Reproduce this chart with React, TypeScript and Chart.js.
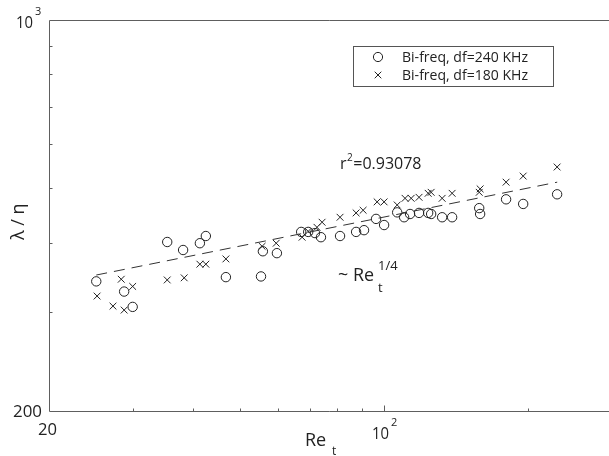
import React, { useEffect, useRef } from "react";
import { Chart, registerables } from "chart.js";

Chart.register(...registerables);

// Series: Bi-freq, df=240 KHz (circles)
const circleRe = [25.1, 28.7, 29.9, 35.3, 38.1, 41.3, 42.5, 46.8, 55.4, 55.9, 59.8, 67.2, 69.5, 71.8, 73.9, 81.0, 87.5, 90.9, 96.3, 100.1, 106.6, 110.2, 113.4, 118.4, 123.7, 125.5, 132.3, 138.8, 158.1, 158.8, 179.9, 195.3, 229.9];
const circleLambda = [341, 327, 307, 401, 388, 399, 411, 347, 348, 386, 383, 418, 418, 416, 409, 411, 418, 421, 441, 430, 453, 444, 450, 452, 452, 450, 444, 444, 461, 450, 478, 469, 488];

// Series: Bi-freq, df=180 KHz (crosses)
const crossRe = [25.2, 28.3, 27.2, 28.7, 29.9, 35.3, 38.3, 41.3, 42.5, 46.8, 55.7, 59.6, 67.5, 69.5, 72.5, 74.3, 81.0, 87.5, 90.5, 96.8, 100.1, 106.6, 110.7, 114.0, 118.4, 123.7, 125.5, 132.3, 138.8, 158.1, 158.8, 179.9, 195.3, 229.9];
const crossLambda = [321, 344, 308, 303, 334, 343, 346, 366, 366, 374, 394, 399, 409, 419, 426, 435, 444, 452, 457, 473, 473, 467, 480, 480, 482, 490, 492, 480, 490, 492, 499, 513, 526, 546];

// Fitted power-law line (endpoints)
const fitRe = [25.1, 230];
const fitLambda = [350, 513];

const seriesLabels = ["Bi-freq, df=240 KHz", "Bi-freq, df=180 KHz"];
const xMinorTicks = [30, 40, 50, 60, 70, 80, 90, 200];
const xMajorTicks = [100];
const yMinorTicks = [300, 400, 500, 600, 700, 800, 900];
const X_MIN = 20;
const X_MAX = 295;
const Y_MIN = 200;
const Y_MAX = 1000;
const fitText = "r";
const fitTextSup = "2";
const fitTextRest = "=0.93078";

const FONT = "'Open Sans', 'DejaVu Sans', sans-serif";
const INK = "#222222";
const AXIS = "#5e5e5e";

function font(size: number) {
  return `${size}px ${FONT}`;
}

function fitFill(ctx: any, t: string, x: number, y: number, target: number) {
  const w = ctx.measureText(t).width;
  ctx.save();
  ctx.translate(x, y);
  if (w > target) ctx.scale(target / w, 1);
  ctx.fillText(t, 0, 0);
  ctx.restore();
}

const overlayPlugin = {
  id: "overlay",
  afterDraw(chart: any) {
    const { ctx, chartArea, scales } = chart;
    const xs = scales.x;
    const ys = scales.y;
    const { left, right, top, bottom } = chartArea;
    ctx.save();
    ctx.strokeStyle = AXIS;
    ctx.lineWidth = 1;
    const xb = Math.round(bottom) + 0.5;
    const yl = Math.round(left) + 0.5;
    const yt = Math.round(top) + 0.5;
    // frame: top, left, bottom
    ctx.beginPath();
    ctx.moveTo(right, yt);
    ctx.lineTo(yl, yt);
    ctx.lineTo(yl, xb);
    ctx.lineTo(right, xb);
    ctx.stroke();

    // x ticks (inward)
    ctx.beginPath();
    xMinorTicks.forEach((v) => {
      const px = Math.round(xs.getPixelForValue(v)) + 0.5;
      ctx.moveTo(px, xb);
      ctx.lineTo(px, xb - 3);
    });
    xMajorTicks.forEach((v) => {
      const px = Math.round(xs.getPixelForValue(v)) + 0.5;
      ctx.moveTo(px, xb);
      ctx.lineTo(px, xb - 6);
    });
    // y ticks
    yMinorTicks.forEach((v) => {
      const py = Math.round(ys.getPixelForValue(v)) + 0.5;
      ctx.moveTo(yl, py);
      ctx.lineTo(yl + 3, py);
    });
    ctx.stroke();

    ctx.fillStyle = INK;
    ctx.textBaseline = "alphabetic";

    // y tick labels
    ctx.font = font(17);
    ctx.textAlign = "left";
    const p200 = ys.getPixelForValue(Y_MIN);
    fitFill(ctx, String(Y_MIN), 13, p200 + 6, 29);
    const p1000 = ys.getPixelForValue(Y_MAX);
    fitFill(ctx, "10", 16, p1000 + 8, 17);
    ctx.font = font(11);
    ctx.fillText("3", 35, p1000 - 5);

    // x tick labels
    ctx.font = font(17);
    const p20 = xs.getPixelForValue(X_MIN);
    fitFill(ctx, String(X_MIN), p20 - 11, bottom + 24, 19);
    const p100 = xs.getPixelForValue(100);
    fitFill(ctx, "10", p100 - 12, bottom + 28, 17);
    ctx.font = font(11);
    ctx.fillText("2", p100 + 7, bottom + 15);

    // x title
    ctx.font = font(18);
    fitFill(ctx, "Re", 305, 446, 24);
    ctx.font = font(12);
    ctx.fillText("t", 332, 455);

    // y title
    ctx.save();
    ctx.translate(24, 240);
    ctx.rotate(-Math.PI / 2);
    ctx.font = font(18);
    fitFill(ctx, "λ / η", 0, 0, 48);
    ctx.restore();

    // annotations
    ctx.font = font(16);
    ctx.fillText(fitText, 340, 169);
    const rw = ctx.measureText(fitText).width;
    ctx.font = font(10);
    ctx.fillText(fitTextSup, 340 + rw + 0.5, 161);
    const sw = ctx.measureText(fitTextSup).width;
    ctx.font = font(16);
    fitFill(ctx, fitTextRest, 340 + rw + sw + 1, 169, 80);

    ctx.font = font(19);
    fitFill(ctx, "~ Re", 338, 281, 36);
    ctx.font = font(13);
    ctx.fillText("t", 378, 292);
    ctx.fillText("1/4", 378, 270);

    // legend
    const lx = 353.5, ly = 46.5, lw = 200, lh = 40;
    ctx.fillStyle = "#ffffff";
    ctx.fillRect(lx, ly, lw, lh);
    ctx.strokeStyle = "#555";
    ctx.strokeRect(lx, ly, lw, lh);
    ctx.strokeStyle = INK;
    ctx.beginPath();
    ctx.arc(378, 57, 4.6, 0, Math.PI * 2);
    ctx.stroke();
    const c = 3.3;
    ctx.beginPath();
    ctx.moveTo(378 - c, 75 - c);
    ctx.lineTo(378 + c, 75 + c);
    ctx.moveTo(378 - c, 75 + c);
    ctx.lineTo(378 + c, 75 - c);
    ctx.stroke();
    ctx.fillStyle = INK;
    ctx.font = font(15);
    seriesLabels.forEach((t, i) => {
      fitFill(ctx, t, 402, 62 + i * 18, 126);
    });
    ctx.restore();
  },
};

export default function App() {
  const ref = useRef<HTMLCanvasElement | null>(null);
  useEffect(() => {
    document.body.style.margin = "0";
    document.body.style.background = "#ffffff";
    const canvas = ref.current!;
    const chart = new Chart(canvas, {
      type: "scatter",
      data: {
        datasets: [
          {
            label: "fit",
            type: "line",
            data: fitRe.map((x, i) => ({ x, y: fitLambda[i] })),
            borderColor: "#333",
            borderWidth: 1,
            borderDash: [11, 7],
            pointRadius: 0,
            fill: false,
          } as any,
          {
            label: seriesLabels[0],
            data: circleRe.map((x, i) => ({ x, y: circleLambda[i] })),
            pointStyle: "circle",
            pointRadius: 4.7,
            borderColor: INK,
            backgroundColor: "rgba(0,0,0,0)",
            borderWidth: 1,
          },
          {
            label: seriesLabels[1],
            data: crossRe.map((x, i) => ({ x, y: crossLambda[i] })),
            pointStyle: "crossRot",
            pointRadius: 4.8,
            borderColor: INK,
            borderWidth: 1,
          },
        ],
      },
      options: {
        animation: false,
        responsive: false,
        maintainAspectRatio: false,
        devicePixelRatio: 1,
        layout: { autoPadding: false, padding: { left: 49, top: 20, right: 0, bottom: 45 } },
        plugins: { legend: { display: false }, tooltip: { enabled: false } },
        scales: {
          x: {
            type: "logarithmic",
            display: false,
            min: X_MIN,
            max: X_MAX,
          },
          y: {
            type: "logarithmic",
            display: false,
            min: Y_MIN,
            max: Y_MAX,
          },
        },
      },
      plugins: [overlayPlugin],
    });
    return () => chart.destroy();
  }, []);
  return (
    <div style={{ position: "fixed", left: 0, top: 0, width: 609, height: 456, background: "#fff" }}>
      <canvas ref={ref} width={609} height={456} style={{ width: 609, height: 456 }} />
    </div>
  );
}
